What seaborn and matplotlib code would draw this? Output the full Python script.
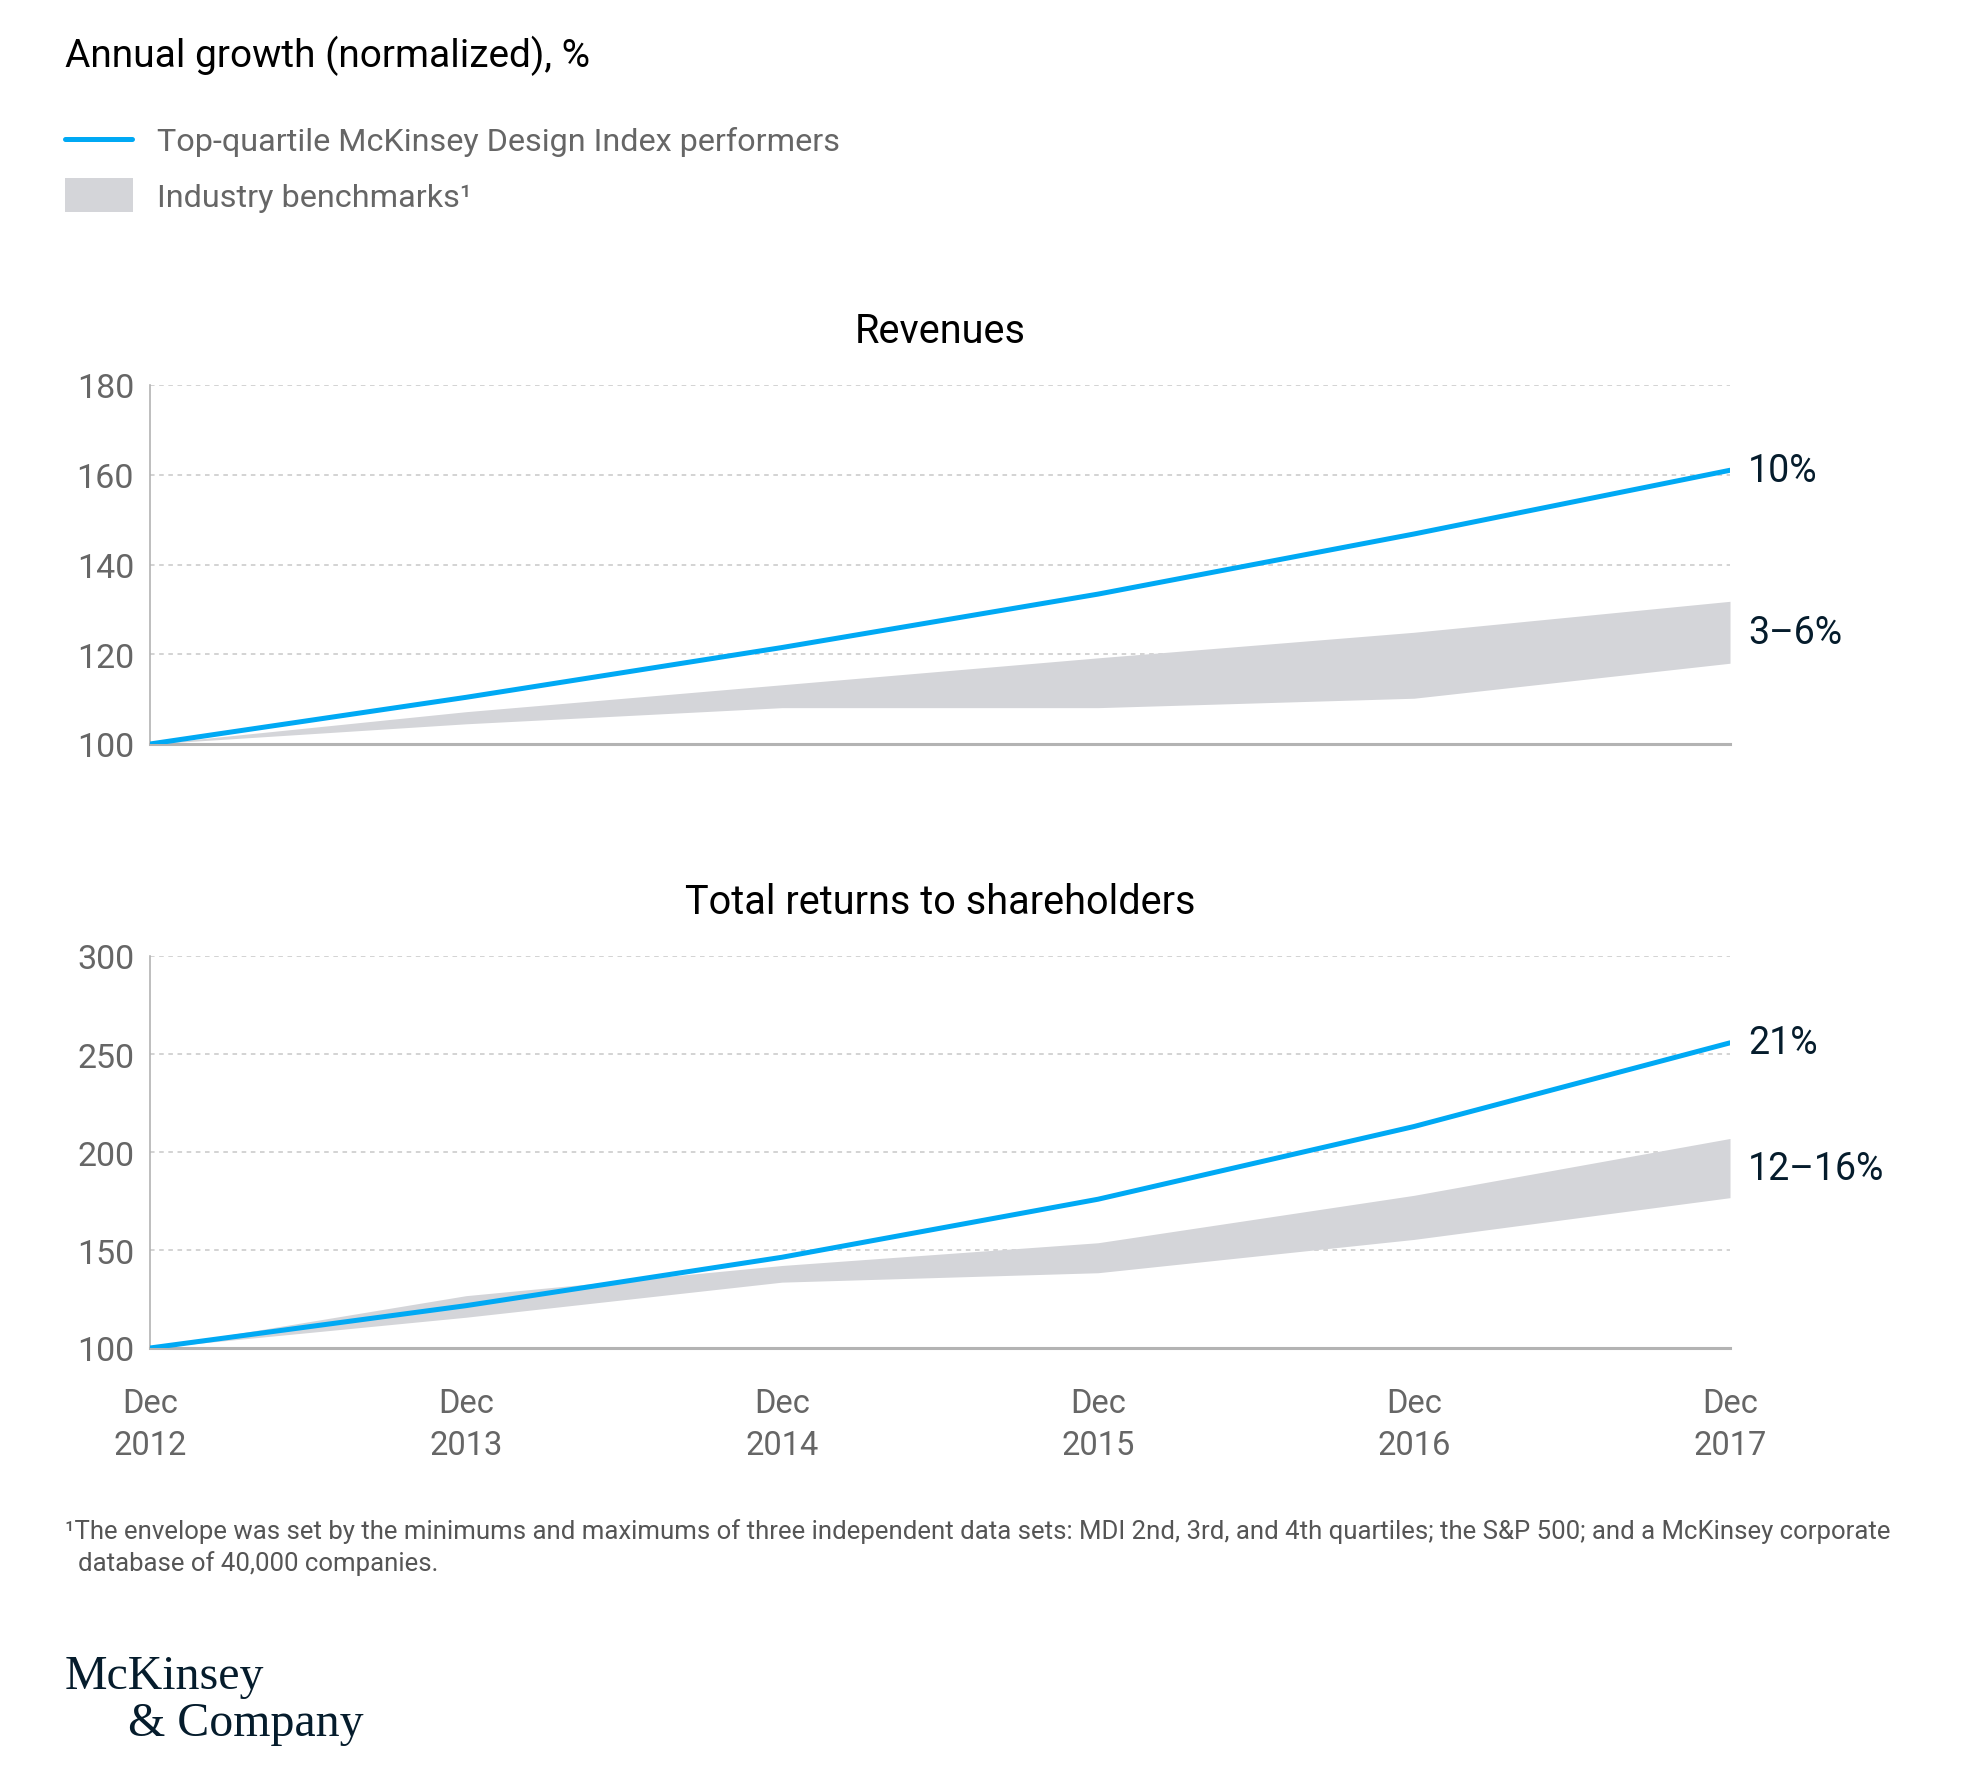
import pandas as pd
import matplotlib.pyplot as plt
import seaborn as sns
from matplotlib.lines import Line2D
from matplotlib.patches import Rectangle

# Values (index, Dec 2012 = 100)
years = [2012, 2013, 2014, 2015, 2016, 2017]
year_labels = ["Dec\n2012", "Dec\n2013", "Dec\n2014", "Dec\n2015", "Dec\n2016", "Dec\n2017"]

rev_top = [100, 110.4, 121.5, 133.4, 146.8, 161.0]
rev_bench_low = [100, 104.5, 108.1, 108.1, 110.2, 118.0]
rev_bench_high = [100, 107.2, 113.2, 119.2, 124.9, 131.8]

trs_top = [100, 121.6, 146.3, 175.9, 213.0, 255.7]
trs_bench_low = [100, 115.7, 133.6, 138.4, 155.4, 176.7]
trs_bench_high = [100, 126.7, 142.1, 153.7, 177.9, 206.9]

rev_labels = ["10%", "3–6%"]
trs_labels = ["21%", "12–16%"]

BLUE = "#00a9f4"
BAND = "#d4d5d9"
NAVY = "#051c2c"
GREY_TXT = "#666666"
SPINE = "#b3b3b3"

sns.set_theme(style="white")
plt.rcParams['font.family'] = ['Roboto', 'DejaVu Sans']

fig = plt.figure(figsize=(19.64, 17.90), dpi=100)
W, H = 1964, 1790


def fx(px):
    return px / W


def fy(px):
    return 1 - px / H


def px_axes(left, top, right, bottom):
    return fig.add_axes([fx(left), fy(bottom), (right - left) / W, (bottom - top) / H])


def draw_panel(ax, top, low, high, ylim, yticks, title, labels, show_x):
    df = pd.DataFrame({"year": years, "value": top})
    ax.fill_between(years, low, high, color=BAND, lw=0, zorder=1)
    sns.lineplot(data=df, x="year", y="value", ax=ax, color=BLUE, lw=3.6, zorder=3)
    ax.set_xlim(years[0], years[-1])
    ax.set_ylim(*ylim)
    ax.set_yticks(yticks)
    ax.set_yticklabels([str(t) for t in yticks], fontsize=24.5, color=GREY_TXT)
    ax.yaxis.grid(True, ls=(0, (3, 3)), color="#c8c8c8", lw=1.1)
    ax.xaxis.grid(False)
    ax.set_xlabel("")
    ax.set_ylabel("")
    ax.set_xticks(years)
    if show_x:
        ax.set_xticklabels(year_labels, fontsize=23.5, color=GREY_TXT, linespacing=1.41)
    else:
        ax.set_xticklabels([])
    ax.tick_params(axis="x", direction="in", length=12, width=1, color="#c8c8c8", pad=28)
    ax.tick_params(axis="y", length=0, pad=11.5)
    for side in ["top", "right"]:
        ax.spines[side].set_visible(False)
    ax.spines["left"].set_color(SPINE)
    ax.spines["left"].set_linewidth(1.2)
    ax.spines["bottom"].set_color(SPINE)
    ax.spines["bottom"].set_linewidth(2.2)
    ax.set_title(title, fontsize=28.5, color="black", pad=31)
    # end-of-series annotations
    ax.annotate(labels[0], (years[-1], top[-1]), xytext=(13, 0), textcoords="offset points",
                fontsize=27, color=NAVY, va="center", ha="left", annotation_clip=False)
    mid = (low[-1] + high[-1]) / 2
    ax.annotate(labels[1], (years[-1], mid), xytext=(13, 0), textcoords="offset points",
                fontsize=27, color=NAVY, va="center", ha="left", annotation_clip=False)


ax1 = px_axes(150, 386, 1730, 745)
draw_panel(ax1, rev_top, rev_bench_low, rev_bench_high, (100, 180), [100, 120, 140, 160, 180],
           "Revenues", rev_labels, False)

ax2 = px_axes(150, 957, 1730, 1349)
draw_panel(ax2, trs_top, trs_bench_low, trs_bench_high, (100, 300), [100, 150, 200, 250, 300],
           "Total returns to shareholders", trs_labels, True)

# header
fig.text(fx(65), fy(67), "Annual growth (normalized), %", fontsize=28, color="black",
         ha="left", va="baseline")

# legend
fig.add_artist(Line2D([fx(65), fx(132)], [fy(140), fy(140)], color=BLUE, lw=3.6))
fig.add_artist(Rectangle((fx(65), fy(213)), 68 / W, 34 / H, facecolor=BAND, edgecolor="none"))
fig.text(fx(157), fy(151), "Top-quartile McKinsey Design Index performers", fontsize=23.3,
         color=GREY_TXT, ha="left", va="baseline")
fig.text(fx(157), fy(207), "Industry benchmarks¹", fontsize=23.3,
         color=GREY_TXT, ha="left", va="baseline")

# footnote
fig.text(fx(65), fy(1532),
         "¹The envelope was set by the minimums and maximums of three independent data sets: "
         "MDI 2nd, 3rd, and 4th quartiles; the S&P 500; and a McKinsey corporate",
         fontsize=18.5, color="#555555", ha="left", va="center")
fig.text(fx(78), fy(1564), "database of 40,000 companies.",
         fontsize=18.5, color="#555555", ha="left", va="center")

# logo
fig.text(fx(65), fy(1689), "McKinsey", fontsize=34.5, color=NAVY, ha="left",
         va="baseline", family="Liberation Serif")
fig.text(fx(128), fy(1736), "& Company", fontsize=34.5, color=NAVY, ha="left",
         va="baseline", family="Liberation Serif")

fig.savefig("out.png", dpi=100, facecolor="white")
